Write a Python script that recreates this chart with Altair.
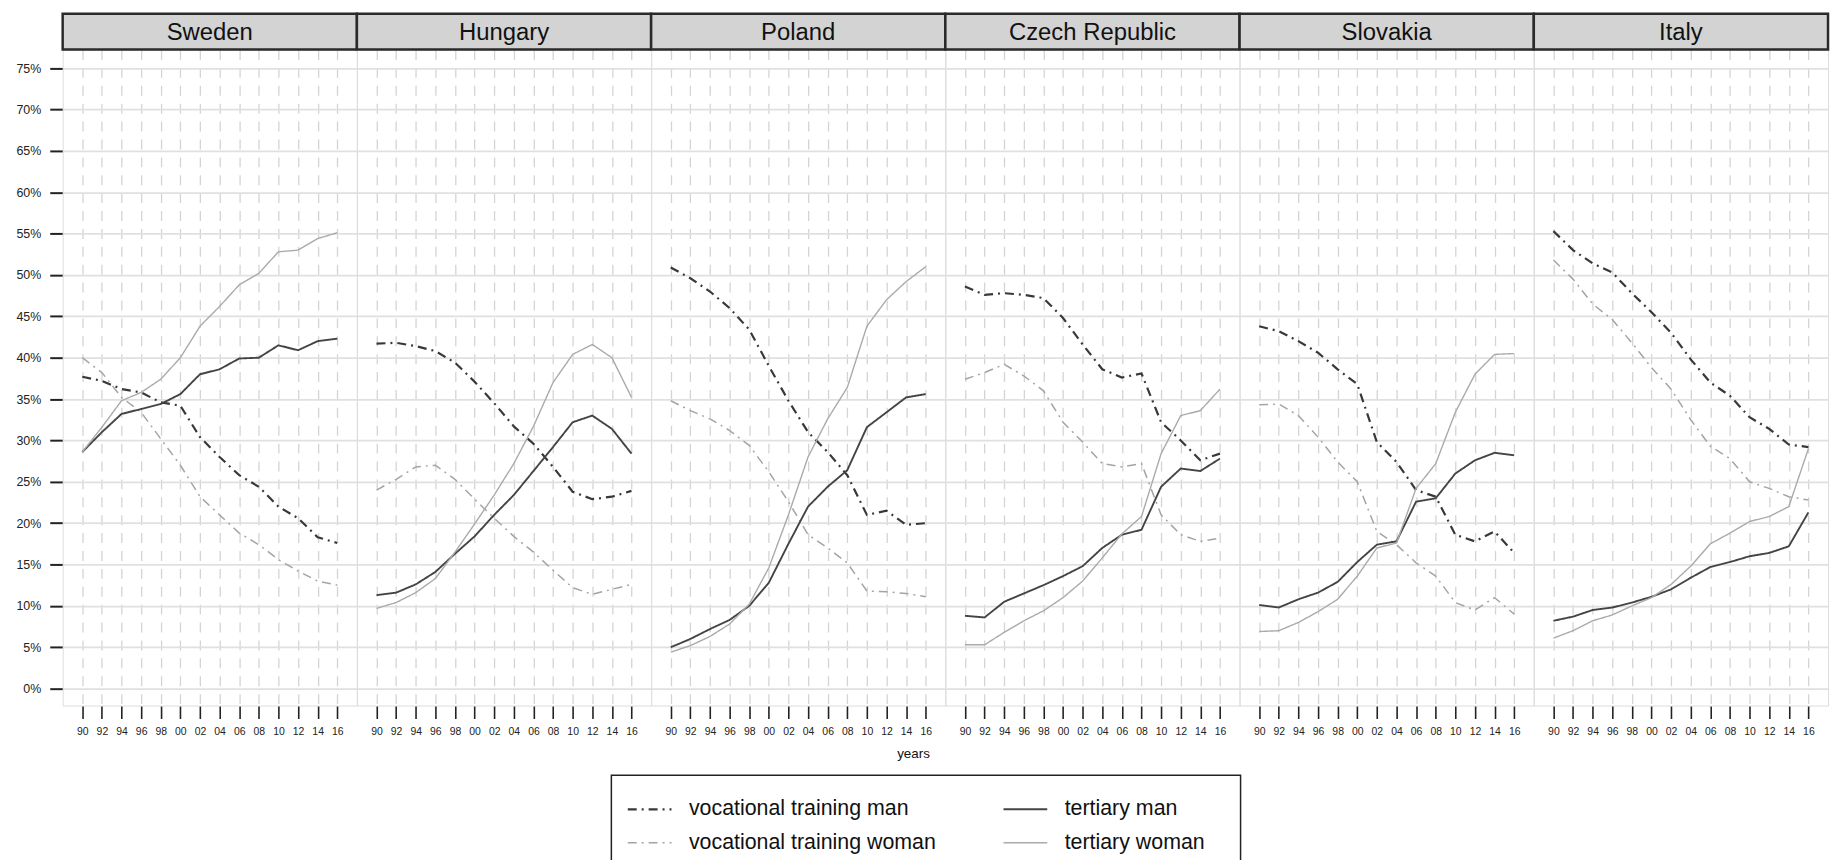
import altair as alt
import pandas as pd

years = list(range(1990, 2017, 2))
countries = ["Sweden", "Hungary", "Poland", "Czech Republic", "Slovakia", "Italy"]
# legend is filled column by column: first column vocational, second tertiary
series_order = ["vocational training man", "vocational training woman",
                "tertiary man", "tertiary woman"]

# values in percent, 1990..2016 every 2 years
sweden_voc_man = [37.7, 37.2, 36.2, 35.8, 34.6, 34.2, 30.4, 28.0, 25.8, 24.4, 22.0, 20.6, 18.3, 17.6]
sweden_voc_woman = [40.0, 38.2, 35.2, 33.4, 30.2, 27.0, 23.2, 21.0, 18.8, 17.4, 15.6, 14.2, 13.0, 12.5]
sweden_ter_man = [28.6, 31.0, 33.2, 33.8, 34.4, 35.6, 38.0, 38.6, 39.9, 40.0, 41.5, 40.9, 42.0, 42.3]
sweden_ter_woman = [28.6, 31.6, 34.8, 35.8, 37.4, 40.0, 43.8, 46.2, 48.8, 50.2, 52.8, 53.0, 54.4, 55.1]

hungary_voc_man = [41.7, 41.8, 41.4, 40.8, 39.4, 37.1, 34.5, 31.7, 29.6, 26.8, 23.8, 22.9, 23.2, 23.9]
hungary_voc_woman = [24.0, 25.3, 26.8, 27.0, 25.3, 22.9, 20.6, 18.4, 16.5, 14.3, 12.2, 11.4, 12.0, 12.6]
hungary_ter_man = [11.3, 11.6, 12.6, 14.1, 16.3, 18.4, 21.0, 23.4, 26.3, 29.2, 32.2, 33.0, 31.4, 28.4]
hungary_ter_woman = [9.7, 10.4, 11.6, 13.3, 16.5, 19.9, 23.4, 27.2, 31.7, 37.0, 40.4, 41.6, 40.0, 35.2]

poland_voc_man = [50.9, 49.6, 48.0, 46.0, 43.4, 39.0, 34.8, 31.0, 28.6, 25.8, 21.0, 21.5, 19.8, 20.0]
poland_voc_woman = [34.8, 33.6, 32.6, 31.2, 29.4, 26.2, 22.6, 18.6, 17.0, 15.2, 11.8, 11.7, 11.5, 11.1]
poland_ter_man = [5.0, 6.0, 7.2, 8.3, 10.0, 12.8, 17.5, 22.0, 24.4, 26.4, 31.6, 33.4, 35.2, 35.6]
poland_ter_woman = [4.4, 5.2, 6.3, 7.8, 10.2, 14.6, 21.0, 28.0, 32.6, 36.4, 43.8, 47.0, 49.2, 51.0]

czech_voc_man = [48.6, 47.6, 47.8, 47.6, 47.2, 44.8, 41.6, 38.6, 37.6, 38.1, 32.2, 30.0, 27.6, 28.4]
czech_voc_woman = [37.4, 38.2, 39.2, 37.8, 36.0, 32.2, 29.8, 27.2, 26.8, 27.2, 21.0, 18.6, 17.8, 18.2]
czech_ter_man = [8.8, 8.6, 10.5, 11.5, 12.5, 13.6, 14.8, 17.0, 18.6, 19.2, 24.4, 26.6, 26.3, 27.8]
czech_ter_woman = [5.3, 5.3, 6.8, 8.2, 9.4, 11.0, 13.0, 15.8, 18.7, 20.8, 28.4, 33.0, 33.6, 36.2]

slovakia_voc_man = [43.8, 43.2, 42.0, 40.6, 38.6, 36.8, 29.8, 27.4, 24.0, 23.2, 18.6, 17.8, 19.0, 16.4]
slovakia_voc_woman = [34.3, 34.4, 33.0, 30.4, 27.4, 25.0, 19.0, 17.4, 15.2, 13.6, 10.4, 9.5, 11.0, 9.0]
slovakia_ter_man = [10.1, 9.8, 10.8, 11.6, 12.9, 15.3, 17.4, 17.8, 22.6, 23.0, 26.0, 27.6, 28.5, 28.2]
slovakia_ter_woman = [6.9, 7.0, 8.0, 9.3, 10.8, 13.6, 17.0, 17.6, 24.2, 27.2, 33.4, 38.0, 40.4, 40.5]

italy_voc_man = [55.3, 53.0, 51.4, 50.3, 47.8, 45.5, 43.0, 39.8, 37.0, 35.4, 32.8, 31.4, 29.5, 29.2]
italy_voc_woman = [51.8, 49.5, 46.5, 44.6, 41.8, 38.8, 36.2, 32.5, 29.3, 27.8, 25.0, 24.2, 23.2, 22.8]
italy_ter_man = [8.2, 8.7, 9.5, 9.8, 10.4, 11.1, 12.0, 13.4, 14.7, 15.3, 16.0, 16.4, 17.2, 21.3]
italy_ter_woman = [6.1, 7.0, 8.2, 8.9, 10.0, 11.0, 12.6, 14.8, 17.5, 18.8, 20.2, 20.8, 22.0, 29.0]

by_country = {
    "Sweden": (sweden_voc_man, sweden_voc_woman, sweden_ter_man, sweden_ter_woman),
    "Hungary": (hungary_voc_man, hungary_voc_woman, hungary_ter_man, hungary_ter_woman),
    "Poland": (poland_voc_man, poland_voc_woman, poland_ter_man, poland_ter_woman),
    "Czech Republic": (czech_voc_man, czech_voc_woman, czech_ter_man, czech_ter_woman),
    "Slovakia": (slovakia_voc_man, slovakia_voc_woman, slovakia_ter_man, slovakia_ter_woman),
    "Italy": (italy_voc_man, italy_voc_woman, italy_ter_man, italy_ter_woman),
}
series_names = ["vocational training man", "vocational training woman",
                "tertiary man", "tertiary woman"]

rows = []
for c in countries:
    for s, vals in zip(series_names, by_country[c]):
        for yr, v in zip(years, vals):
            rows.append({"country": c, "series": s, "year": yr, "value": v})
df = pd.DataFrame(rows)

W = 296
H = 660
FONT = "Liberation Sans"

legend = alt.Legend(
    title=None, orient="none", legendX=551, legendY=725, columns=2,
    symbolType="M-1,0L1,0", symbolSize=1936, labelFontSize=21.5, labelFont=FONT,
    labelColor="#111", columnPadding=63, rowPadding=-8, padding=16,
    labelOffset=16, labelLimit=500,
)

sc_color = alt.Scale(domain=series_order, range=["#383838", "#a4a4a4", "#444444", "#aaaaaa"])
sc_dash = alt.Scale(domain=series_order, range=[[9, 5, 2, 5], [9, 5, 2, 5], [1, 0], [1, 0]])
sc_width = alt.Scale(type="ordinal", domain=series_order, range=[2.2, 1.5, 1.9, 1.4])

x_axis = alt.Axis(
    values=years, title=None, labelExpr="(datum.value % 100 < 10 ? '0' : '') + (datum.value % 100)",
    tickSize=13, tickWidth=1.6, tickColor="#222", labelFontSize=10.5, labelPadding=8,
    labelColor="#222", labelFont=FONT, grid=True, gridDash=[10, 8], gridColor="#d4d4d4",
    gridWidth=1.3, domain=False, labelFlush=False, labelOverlap=False,
)
y_axis = alt.Axis(
    values=list(range(0, 80, 5)), title=None, labelExpr="datum.value + '%'",
    tickSize=13, tickWidth=2, tickColor="#222", labelFontSize=12.5, labelPadding=9,
    labelColor="#222", labelFont=FONT, grid=True, gridColor="#e0e0e0", gridWidth=1.8,
    domain=False,
)

lines = alt.Chart().mark_line().encode(
    x=alt.X("year:Q", scale=alt.Scale(domain=[1988, 2018], nice=False, zero=False), axis=x_axis),
    y=alt.Y("value:Q", scale=alt.Scale(domain=[-2.05, 77.25], nice=False, zero=False), axis=y_axis),
    color=alt.Color("series:N", scale=sc_color, legend=legend),
    strokeDash=alt.StrokeDash("series:N", scale=sc_dash, legend=legend),
    strokeWidth=alt.StrokeWidth("series:N", scale=sc_width, legend=legend),
    detail="series:N",
)

one_row = "datum.series == 'tertiary man' && datum.year == 1990"

header_box = alt.Chart().mark_rect(fill="#d3d3d3", stroke="#2a2a2a", strokeWidth=2.5).encode(
    x=alt.value(0), x2=alt.value(W), y=alt.value(-36), y2=alt.value(0)
).transform_filter(one_row)

header_text = alt.Chart().mark_text(fontSize=24, font=FONT, color="#111", baseline="middle").encode(
    x=alt.value(W / 2), y=alt.value(-17), text="country:N"
).transform_filter(one_row)

years_title = alt.Chart().mark_text(fontSize=13.5, font=FONT, color="#111", baseline="middle").encode(
    x=alt.value(264), y=alt.value(709), text=alt.value("years")
).transform_filter(one_row + " && datum.country == 'Poland'")

legend_box = alt.Chart().mark_rect(fill="white", stroke="#222", strokeWidth=1.5).encode(
    x=alt.value(552), x2=alt.value(1185), y=alt.value(730), y2=alt.value(880)
).transform_filter(one_row + " && datum.country == 'Sweden'")

chart = alt.layer(lines, header_box, header_text, years_title, legend_box, data=df).properties(
    width=W, height=H
).facet(
    column=alt.Column("country:N", sort=countries, header=alt.Header(labels=False, title=None)),
    spacing=0,
    bounds="flush",
).properties(
    padding={"left": 7, "top": 1, "right": 2, "bottom": 0}
).configure_view(
    stroke="#262626", strokeWidth=3
).configure(font=FONT)

chart.save("out.html", embed_options={"renderer": "svg", "actions": False})
